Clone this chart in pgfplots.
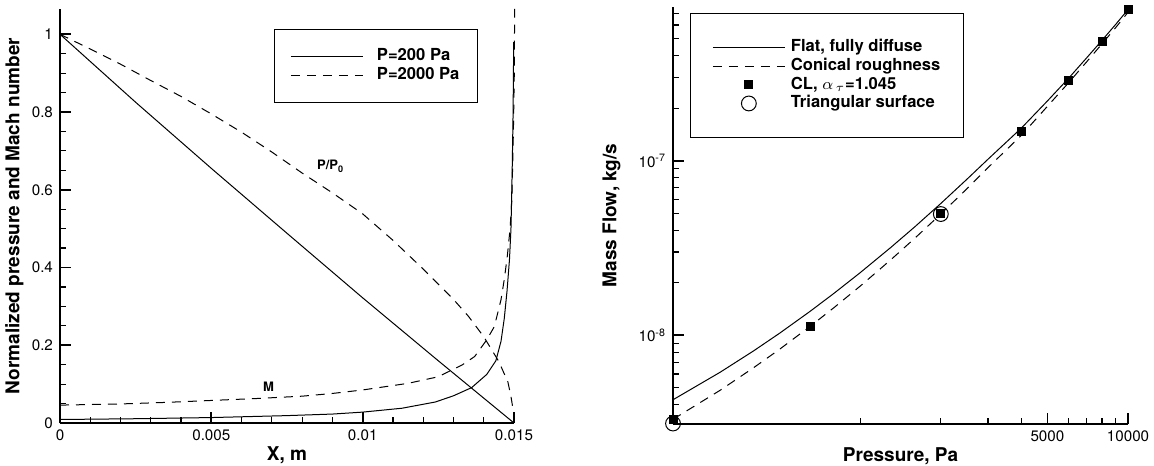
\documentclass[border=0pt]{standalone}
\usepackage{fontspec}
\setmainfont{TeX Gyre Heros}
\usepackage{pgfplots}
\pgfplotsset{compat=1.18}

\pgfplotsset{
  tec/.style={
    scale only axis,
    scaled x ticks=false, scaled y ticks=false,
    axis x line=bottom, axis y line=left,
    axis line style={-, line width=1.3pt},
    major tick style={line width=0.9pt, black},
    minor tick style={line width=0.6pt, black},
    major tick length=5.5pt, minor tick length=3pt,
    tick align=inside,
    tick label style={font=\fontsize{7.6}{9}\selectfont},
    label style={font=\bfseries\fontsize{9.5}{11}\selectfont},
    xlabel style={at={(axis description cs:0.5,-0.04)}, anchor=north},
    ylabel style={anchor=south},
    legend cell align=left,
    legend image code/.code={\draw[mark repeat=2,mark phase=2,##1] plot coordinates {(0pt,0pt) (18pt,0pt) (36pt,0pt)};},
    legend style={draw=black, line width=0.5pt, anchor=north west,
      font=\bfseries\fontsize{8.3}{10}\selectfont,
      nodes={inner sep=0.8pt, text height=6pt, text depth=1.7pt}},
    clip=false,
  },
  sol/.style={black, line width=0.5pt},
  dsh/.style={black, line width=0.5pt, dash pattern=on 4.5pt off 3.5pt},
}

\begin{document}
\begin{tikzpicture}
\useasboundingbox (0pt,0pt) rectangle (577pt,232.5pt);

% left: pressure and Mach number along the channel
\begin{axis}[tec, at={(30pt,21pt)}, anchor=south west, width=227pt, height=207pt,
  xmin=0, xmax=0.015, ymin=0, ymax=1.065,
  xtick={0,0.005,0.01,0.015}, xticklabels={0,0.005,0.01,0.015}, minor x tick num=4,
  ytick={0,0.2,0.4,0.6,0.8,1}, yticklabels={0,0.2,0.4,0.6,0.8,1}, minor y tick num=3,
  xlabel={X, m}, ylabel={Normalized pressure and Mach number},
  ylabel style={at={(axis description cs:-0.065,0.5)}},
  legend style={at={(axis description cs:0.471,0.952)}, inner xsep=8pt, inner ysep=9pt,
    /tikz/every odd column/.append style={column sep=6pt}},
]
\addplot[sol] coordinates {
  (0,1.0)(0.0025,0.825)(0.005,0.655)(0.0075,0.488)(0.01,0.322)(0.0125,0.160)(0.015,0.0)
};
\addlegendentry{P=200 Pa}
\addplot[dsh] coordinates {
  (0,1.0)(0.001,0.962)(0.002,0.923)(0.003,0.881)(0.004,0.840)(0.005,0.795)
  (0.006,0.748)(0.007,0.697)(0.008,0.643)(0.009,0.592)(0.010,0.538)(0.011,0.470)
  (0.012,0.396)(0.013,0.318)(0.0135,0.274)(0.014,0.222)(0.0145,0.158)(0.0148,0.105)
  (0.0149,0.068)(0.01498,0.03)
};
\addlegendentry{P=2000 Pa}
%% Mach number
\addplot[sol, forget plot] coordinates {
  (0,0.009)(0.0025,0.011)(0.005,0.014)(0.0075,0.019)(0.009,0.023)(0.01,0.028)
  (0.0113,0.038)(0.0124,0.054)(0.013,0.070)(0.0136,0.091)(0.0141,0.125)(0.0144,0.160)
  (0.01457,0.21)(0.01468,0.27)(0.01477,0.34)(0.01485,0.42)(0.0149,0.50)
  (0.01494,0.65)(0.01497,0.80)(0.01499,0.98)
};
\addplot[dsh, forget plot] coordinates {
  (0,0.046)(0.002,0.049)(0.0035,0.053)(0.005,0.058)(0.0065,0.063)(0.008,0.069)
  (0.009,0.076)(0.010,0.085)(0.0115,0.102)(0.0125,0.119)(0.0133,0.150)(0.0137,0.171)
  (0.0141,0.214)(0.01435,0.248)(0.01457,0.317)(0.01468,0.37)(0.01478,0.43)
  (0.01487,0.50)(0.01493,0.575)(0.01498,0.75)(0.01501,0.90)(0.01502,1.065)
};
\node[font=\bfseries\fontsize{6.5}{7}\selectfont] at (axis cs:0.00894,0.66) {P/P\textsubscript{0}};
\node[font=\bfseries\fontsize{6.5}{7}\selectfont] at (axis cs:0.00689,0.093) {M};
\end{axis}

% right: mass flow against pressure
\begin{axis}[tec, at={(336.5pt,20.5pt)}, anchor=south west, width=227.5pt, height=208.5pt,
  xmode=log, ymode=log, xmin=200, xmax=10000, ymin=3.1e-9, ymax=7.6e-7,
  xtick={5000,10000}, xticklabels={5000,10000},
  minor xtick={1000,2000,3000,4000,6000,7000,8000,9000},
  ytick={1e-8,1e-7}, yticklabels={10\textsuperscript{-8},10\textsuperscript{-7}},
  minor ytick={4e-9,5e-9,6e-9,7e-9,8e-9,9e-9,2e-8,3e-8,4e-8,5e-8,6e-8,7e-8,8e-8,9e-8,
    2e-7,3e-7,4e-7,5e-7,6e-7,7e-7},
  xlabel={Pressure, Pa}, ylabel={Mass Flow, kg/s},
  ylabel style={at={(axis description cs:-0.10,0.5)}},
  legend style={at={(axis description cs:0.037,0.986)}, inner xsep=11pt, inner ysep=12.5pt,
    /tikz/every odd column/.append style={column sep=2pt}},
]
\addplot[sol] coordinates {
  (200,4.27e-9)(300,6.14e-9)(400,8.14e-9)(500,1.027e-8)(650,1.371e-8)(800,1.744e-8)
  (1000,2.284e-8)(1300,3.183e-8)(1600,4.185e-8)(2000,5.69e-8)(2500,7.82e-8)
  (3000,1.02e-7)(4000,1.54e-7)(5000,2.2e-7)(6000,2.97e-7)(7000,3.88e-7)
  (8000,4.9e-7)(9000,6.05e-7)(10000,7.35e-7)
};
\addlegendentry{Flat, fully diffuse}
\addplot[dsh] coordinates {
  (200,3.30e-9)(300,4.84e-9)(400,6.52e-9)(500,8.31e-9)(650,1.124e-8)(800,1.444e-8)
  (1000,1.913e-8)(1300,2.705e-8)(1600,3.60e-8)(2000,4.95e-8)(2500,6.90e-8)
  (3000,9.13e-8)(4000,1.40e-7)(5000,2.05e-7)(6000,2.80e-7)(7000,3.68e-7)
  (8000,4.68e-7)(9000,5.8e-7)(10000,7.09e-7)
};
\addlegendentry{Conical roughness}
\addplot[only marks, mark=square*, mark size=2pt, black] coordinates {
  (200,3.28e-9)(650,1.13e-8)(2000,5.0e-8)(4000,1.48e-7)(6000,2.87e-7)(8000,4.81e-7)(10000,7.33e-7)
};
\addlegendentry{CL, $\alpha_{\,\tau}$=1.045}
\addplot[only marks, mark=o, mark size=3.7pt, black, line width=0.5pt] coordinates {
  (200,3.12e-9)(2000,4.95e-8)
};
\addlegendentry{Triangular surface}
\end{axis}
\end{tikzpicture}
\end{document}
